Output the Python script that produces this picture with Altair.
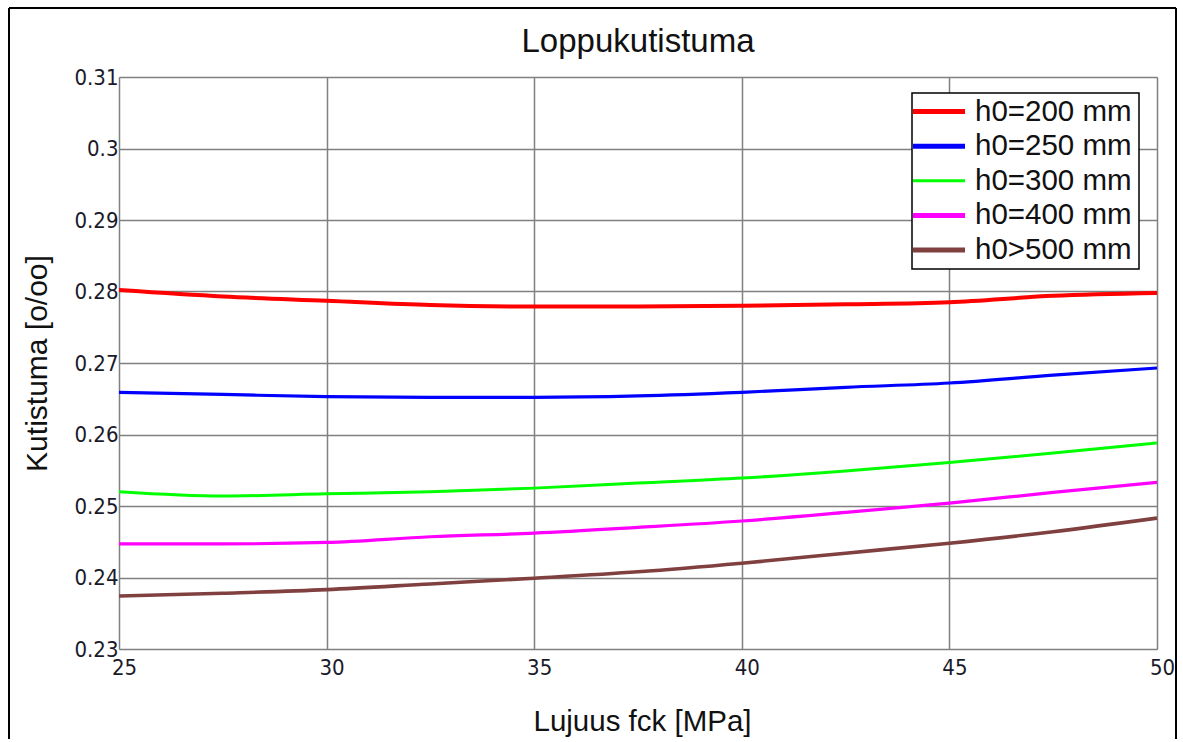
import altair as alt
import pandas as pd

fck = [25, 27.5, 30, 32.5, 35, 37.5, 40, 42.5, 45, 47.5, 50]
h200 = [0.2802, 0.2793, 0.2787, 0.2781, 0.2779, 0.2779, 0.2780, 0.2782, 0.2785, 0.2794, 0.2798]
h250 = [0.2659, 0.2656, 0.2653, 0.2652, 0.2652, 0.2654, 0.2659, 0.2666, 0.2672, 0.2683, 0.2693]
h300 = [0.2520, 0.2514, 0.2517, 0.2520, 0.2525, 0.2532, 0.2539, 0.2549, 0.2561, 0.2574, 0.2588]
h400 = [0.2447, 0.2447, 0.2449, 0.2457, 0.2462, 0.2470, 0.2479, 0.2491, 0.2504, 0.2519, 0.2533]
h500 = [0.2374, 0.2378, 0.2383, 0.2391, 0.2399, 0.2408, 0.2420, 0.2434, 0.2448, 0.2464, 0.2483]

series = ["h0=200 mm", "h0=250 mm", "h0=300 mm", "h0=400 mm", "h0>500 mm"]
colors = ["#ff0000", "#0000ff", "#00ff00", "#ff00ff", "#804040"]
line_widths = [4, 3.2, 3, 3.2, 3.6]
legend_widths = [5, 5, 3, 5, 5]
y_ticks = [0.23, 0.24, 0.25, 0.26, 0.27, 0.28, 0.29, 0.30, 0.31]
x_ticks = [25, 30, 35, 40, 45, 50]

rows = []
for name, lw, vals in zip(series, line_widths, [h200, h250, h300, h400, h500]):
    for x, v in zip(fck, vals):
        rows.append({"fck": x, "kutistuma": v, "sarja": name, "lw": lw})
df = pd.DataFrame(rows)
leg_df = pd.DataFrame({"sarja": series, "lw": legend_widths})
one = pd.DataFrame({"k": [0]})

W, H = 1038, 572
LABEL_FONT = "Liberation Sans Narrow, DejaVu Sans Condensed, sans-serif"
TEXT_FONT = "Liberation Sans, Arial, sans-serif"

color_scale = alt.Scale(domain=series, range=colors)

lines = alt.Chart(df).mark_line(interpolate="monotone", clip=True).encode(
    x=alt.X("fck:Q",
            scale=alt.Scale(domain=[25, 50], nice=False, zero=False),
            axis=alt.Axis(values=x_ticks, title="Lujuus fck [MPa]", grid=True,
                          gridColor="#808080", gridWidth=1.5, gridOpacity=1,
                          domain=False, ticks=False, labelFont=LABEL_FONT,
                          labelFontSize=22, labelColor="#1a1a2a", labelPadding=8,
                          labelOffset=5, labelFlush=False,
                          titleFont=TEXT_FONT, titleFontSize=29.5, titleFontWeight="normal",
                          titleColor="#111111", titleX=523, titleY=72,
                          titleAlign="center", titleBaseline="middle")),
    y=alt.Y("kutistuma:Q",
            scale=alt.Scale(domain=[0.23, 0.31], nice=False, zero=False),
            axis=alt.Axis(values=y_ticks, title="Kutistuma [o/oo]", grid=True,
                          gridColor="#808080", gridWidth=1.5, gridOpacity=1,
                          domain=False, ticks=False, labelFont=LABEL_FONT,
                          labelFontSize=22, labelColor="#1a1a2a", labelPadding=1,
                          labelExpr="format(datum.value, '.2~f')", labelFlush=False,
                          titleFont=TEXT_FONT, titleFontSize=30, titleFontWeight="normal",
                          titleColor="#111111", titleX=-82, titleY=286, titleAngle=-90,
                          titleAlign="center", titleBaseline="middle")),
    color=alt.Color("sarja:N", scale=color_scale, legend=None),
    strokeWidth=alt.StrokeWidth("lw:Q", scale=None, legend=None),
)

# legend built from the series list
leg_y = alt.Y("sarja:N", scale=alt.Scale(type="point", domain=series, range=[34.5, 173], padding=0),
              axis=None)
leg_box = alt.Chart(one).mark_rect(fill="white", stroke="black", strokeWidth=1.5).encode(
    x=alt.value(793), x2=alt.value(1020), y=alt.value(16), y2=alt.value(192))
leg_sym = alt.Chart(leg_df).mark_rule().encode(
    x=alt.value(794), x2=alt.value(846), y=leg_y,
    color=alt.Color("sarja:N", scale=color_scale, legend=None),
    strokeWidth=alt.StrokeWidth("lw:Q", scale=None, legend=None))
leg_txt = alt.Chart(leg_df).mark_text(align="left", baseline="middle", font=TEXT_FONT,
                                      fontSize=29.5, color="#111111").encode(
    x=alt.value(856), y=leg_y, text="sarja:N")
legend = alt.layer(leg_box, leg_sym, leg_txt)

top_rule = alt.Chart(one).mark_rule(color="black", strokeWidth=2).encode(
    x=alt.value(-110), x2=alt.value(1057), y=alt.value(-69))
left_rule = alt.Chart(one).mark_rule(color="black", strokeWidth=2).encode(
    x=alt.value(-110), y=alt.value(-69), y2=alt.value(680))
right_rule = alt.Chart(one).mark_rule(color="black", strokeWidth=2).encode(
    x=alt.value(1057), y=alt.value(-69), y2=alt.value(680))

chart = alt.layer(lines, legend, top_rule, left_rule, right_rule).resolve_scale(
    y="independent").properties(
    width=W, height=H,
    title=alt.TitleParams("Loppukutistuma", font=TEXT_FONT, fontSize=33,
                          fontWeight="normal", color="#111111", anchor="middle",
                          offset=-52),
    autosize=alt.AutoSizeParams(type="none"),
    padding={"left": 119, "top": 77, "right": 26, "bottom": 90},
).configure_view(stroke="black", strokeWidth=2).configure(background="white")

chart.save("out.html", embed_options={"renderer": "svg", "actions": False})
